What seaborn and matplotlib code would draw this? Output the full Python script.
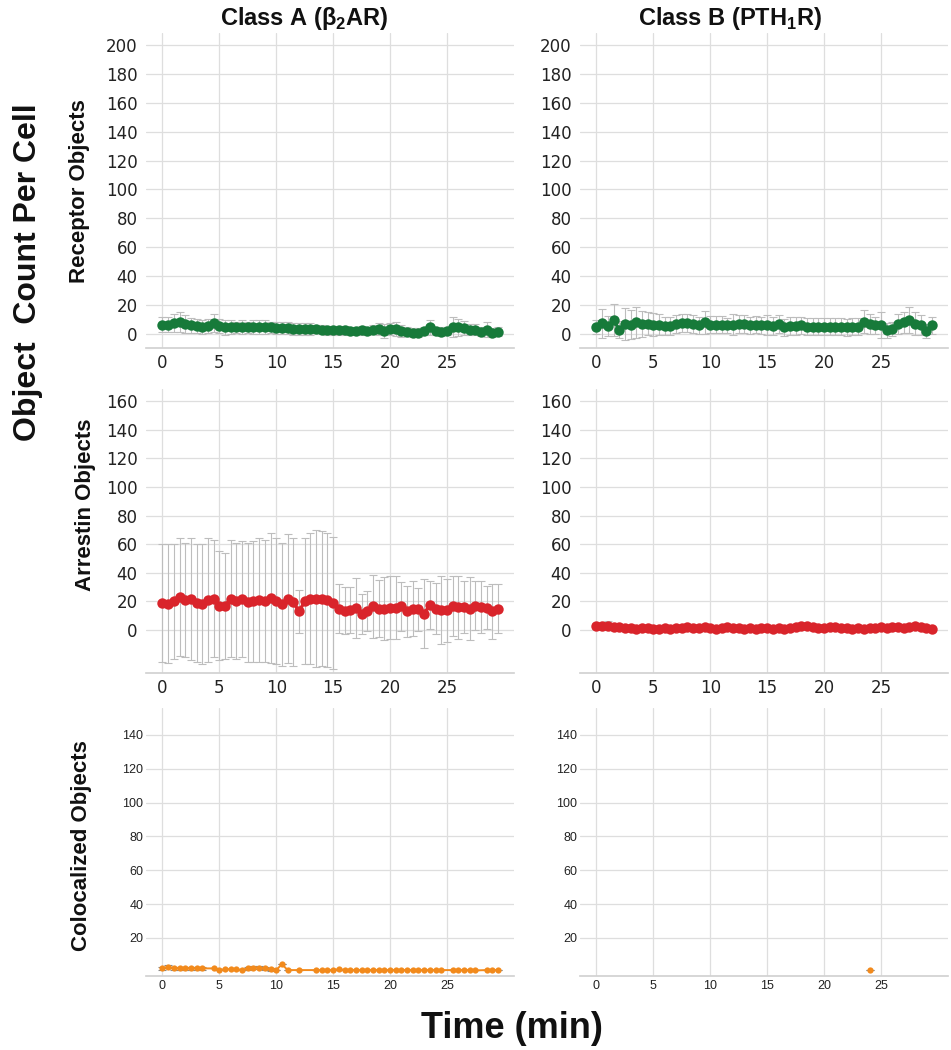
import numpy as np
import pandas as pd
import seaborn as sns
import matplotlib.pyplot as plt

# sampling times (min), one frame every 30 s
time = np.arange(0, 30, 0.5)

# receptor objects per cell
receptor_a = [6.5, 6.5, 7.5, 8.5, 7, 6, 5.5, 5, 5.5, 7.5, 5.5, 4.5, 5, 4.5, 5, 4.5, 5, 5, 5, 4.5,
              4, 4, 4, 3.5, 3.5, 3.5, 3.5, 3.5, 3, 2.5, 2.5, 2.5, 2.5, 2, 2, 2.5, 2, 3, 3.5, 2,
              3.5, 3.5, 2, 1.5, 1, 1, 2, 4.5, 2, 1.5, 2, 5, 4.5, 4, 3, 3, 1.5, 3, 1, 1.5]
receptor_a_sd = [5, 5, 6, 7, 6, 5, 5, 5, 5, 6, 5, 5, 5, 4, 5, 4, 5, 5, 5, 4,
                 4, 4, 4, 4, 4, 4, 4, 3, 3, 3, 3, 3, 3, 3, 3, 3, 3, 3, 4, 5,
                 4, 5, 4, 3, 3, 3, 3, 5, 3, 3, 3, 7, 6, 5, 4, 4, 3, 5, 3, 3]
receptor_b = [5, 7.5, 5.5, 9.5, 3, 7, 6.5, 8, 7, 7, 6.5, 6.5, 5.5, 5.5, 7, 7.5, 7.5, 7, 6, 8,
              6.5, 6.5, 6.5, 6, 6.5, 7, 7, 6, 6.5, 6, 6, 5.5, 7, 4.5, 5.5, 5.5, 6, 5, 5, 5,
              5, 5, 5, 5, 4.5, 5, 5, 8.5, 7, 6, 6.5, 2.5, 3.5, 7, 8, 9.5, 7, 6, 2, 6]
receptor_b_sd = [5, 10, 7, 11, 6, 11, 10, 11, 9, 8, 8, 7, 6, 6, 6, 6, 6, 6, 6, 8,
                 6, 6, 6, 5, 7, 6, 6, 6, 6, 6, 7, 6, 6, 6, 6, 6, 6, 6, 6, 6,
                 6, 6, 6, 6, 6, 6, 6, 8, 7, 6, 9, 5, 5, 7, 7, 9, 8, 7, 5, 6]

# arrestin objects per cell
arrestin_a = [19, 18.5, 20, 23, 21, 21.5, 19, 18, 21, 22, 17, 17, 22, 20.5, 21.5, 19.5, 20, 21, 20.5, 22.5,
              20, 18, 22, 19.5, 13, 20, 22, 22, 22, 21, 19, 15, 13.5, 14, 15.5, 11, 13, 16.5, 15, 15,
              15.5, 15.5, 16.5, 13, 15, 14.5, 11.5, 17.5, 15, 14, 14, 17, 16, 16, 15, 17, 16, 15.5, 13, 15]
arrestin_a_sd = [41, 41.5, 40, 41, 40, 42.5, 41, 42, 43, 41, 38, 37, 41, 40.5, 40.5, 41.5, 42, 43, 42.5, 45.5,
                 44, 43, 45, 44.5, 15, 44, 46, 48, 47, 47, 46, 17, 16.5, 16, 21, 14, 14, 22, 20, 22,
                 22, 22, 17, 18, 19, 15, 24, 17, 18, 24, 22, 21, 22, 18, 22, 17, 18, 15, 19, 17]
arrestin_b = [3, 2.5, 3, 2, 2, 1.5, 1.5, 1, 1.5, 1.5, 1, 1, 1.5, 1, 1.5, 1.5, 2, 1.5, 1.5, 2,
              1.5, 1, 1.5, 2, 1.5, 1.5, 1, 1.5, 1, 1.5, 1.5, 1, 1.5, 1, 1.5, 2, 2.5, 3, 2, 1.5,
              1.5, 2, 2, 1.5, 1.5, 1, 1.5, 1, 1.5, 1.5, 2, 1.5, 2, 2, 1.5, 2, 2.5, 2, 1.5, 1]
arrestin_b_sd = [2, 2, 3, 2, 1.5, 1, 1, 1, 1, 1, 1, 1, 1, 1, 1, 1, 1, 1, 1, 1,
                 1, 1, 1, 1, 1, 1, 1, 1, 1, 1, 1, 1, 1, 1, 1, 1, 1.5, 1.5, 1, 1,
                 1, 1, 1, 1, 1, 1, 1, 1, 1, 1, 1, 1, 1, 1, 1, 1, 1, 1, 1, 1]

# colocalized objects per cell (nan = no object detected in that frame)
nan = np.nan
coloc_a = [2, 3, 2, 2, 2, 2, 2, 2, nan, 2, 1, 1.5, 1.5, 1.5, 1, 2, 2.5, 2.5, 2, 1.5,
           1, 4.5, 1, nan, 1, nan, nan, 1, 1, 1, 1, 1.5, 1, 1, 1, 1, 1, 1, 1, 1,
           1, 1, 1, 1, 1, 1, 1, 1, 1, 1, nan, 1, 1, 1, 1, 0.8, nan, 1, 1, 1]
coloc_a_sd = [1, 1, 1, 1, 1, 1, 1, 1, 0, 0, 0, 0, 0, 0, 0, 1, 1, 1, 1, 1,
              0, 0, 0, 0, 0, 0, 0, 0, 0, 0, 0, 0, 0, 0, 0, 0, 0, 0, 0, 0,
              0, 0, 0, 0, 0, 0, 0, 0, 0, 0, 0, 0, 0, 0, 0, 0, 0, 0, 0, 0]
coloc_b = [nan] * 48 + [1] + [nan] * 11
coloc_b_sd = [0] * 60

col_titles = ['Class A (β$_\\mathregular{2}$AR)', 'Class B (PTH$_\\mathregular{1}$R)']
row_titles = ['Receptor Objects', 'Arrestin Objects', 'Colocalized Objects']

green = '#177a3a'
red = '#d9242b'
orange = '#f28a1c'

sns.set_theme(style='whitegrid')
plt.rcParams['grid.color'] = '#dedede'
plt.rcParams['grid.linewidth'] = 0.9
plt.rcParams['axes.edgecolor'] = '#d2d2d2'

fig = plt.figure(figsize=(9.51, 10.5), dpi=100)
W, H = 951, 1050


def panel(left, top, bottom):
    return fig.add_axes([left / W, 1 - bottom / H, 368 / W, (bottom - top) / H])


def draw(ax, y, sd, color, ms, lw, ecolor):
    df = pd.DataFrame({'time': time, 'count': y, 'sd': sd}).dropna()
    ax.errorbar(df['time'], df['count'], yerr=df['sd'], fmt='none', ecolor=ecolor,
                elinewidth=0.8, capsize=3, capthick=0.8, zorder=2)
    sns.lineplot(data=df, x='time', y='count', color=color, marker='o', markersize=ms,
                 markeredgewidth=0, linewidth=lw, ax=ax, zorder=3)


rows = [
    dict(top=33, bottom=348, ylim=(-9.7, 208.3), yticks=range(0, 201, 20),
         series=[(receptor_a, receptor_a_sd), (receptor_b, receptor_b_sd)], color=green,
         ms=7.5, lw=2.4, fs=12, font='DejaVu Sans', ypad=6, xpad=4, ecolor='#bdbdbd'),
    dict(top=389, bottom=673, ylim=(-30, 168.4), yticks=range(0, 161, 20),
         series=[(arrestin_a, arrestin_a_sd), (arrestin_b, arrestin_b_sd)], color=red,
         ms=7.5, lw=2.4, fs=12, font='DejaVu Sans', ypad=6, xpad=4, ecolor='#bdbdbd'),
    dict(top=708, bottom=976, ylim=(-2.5, 155.9), yticks=range(20, 141, 20),
         series=[(coloc_a, coloc_a_sd), (coloc_b, coloc_b_sd)], color=orange,
         ms=4.5, lw=1.4, fs=9, font='Liberation Sans', ypad=2, xpad=3, ecolor='#888888'),
]

for r in rows:
    for col, left in enumerate([146, 580]):
        ax = panel(left, r['top'], r['bottom'])
        y, sd = r['series'][col]
        draw(ax, y, sd, r['color'], r['ms'], r['lw'], r['ecolor'])
        ax.set_xlim(-1.45, 30.9)
        ax.set_ylim(*r['ylim'])
        ax.set_xticks([0, 5, 10, 15, 20, 25])
        ax.set_yticks(list(r['yticks']))
        ax.set_xlabel('')
        ax.set_ylabel('')
        for s in ['left', 'top', 'right']:
            ax.spines[s].set_visible(False)
        ax.tick_params(axis='y', length=0, pad=r['ypad'], labelsize=r['fs'], colors='#222222')
        ax.tick_params(axis='x', length=0, pad=r['xpad'], labelsize=r['fs'], colors='#222222')
        for lab in ax.get_xticklabels() + ax.get_yticklabels():
            lab.set_family(r['font'])

bold = dict(fontweight='bold', family='Liberation Sans', color='#111111')
for txt, x in zip(col_titles, [304, 730]):
    fig.text(x / W, 1 - 18 / H, txt, ha='center', va='center', fontsize=17,
             fontweight='bold', family=['Liberation Sans Narrow', 'Liberation Sans'], color='#111111')

for txt, x, y in zip(row_titles, [80, 86, 82], [191, 505, 846]):
    fig.text(x / W, 1 - y / H, txt, rotation=90, ha='center', va='center', fontsize=16, **bold)

fig.text(28 / W, 1 - 272 / H, 'Object  Count Per Cell', rotation=90, ha='center', va='center',
         fontsize=23, **bold)
fig.text(512 / W, 1 - 1028 / H, 'Time (min)', ha='center', va='center', fontsize=26, **bold)

fig.savefig('out.png', dpi=100)
